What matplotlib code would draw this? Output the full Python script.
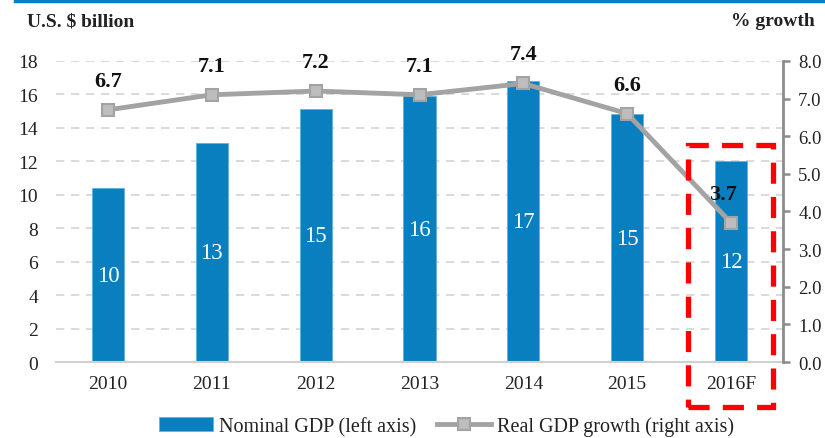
import matplotlib
matplotlib.use("Agg")
import matplotlib.pyplot as plt
from matplotlib.patches import Rectangle

years = ["2010", "2011", "2012", "2013", "2014", "2015", "2016F"]
nominal_gdp = [10.4, 13.1, 15.1, 15.9, 16.8, 14.8, 12.0]
nominal_labels = ["10", "13", "15", "16", "17", "15", "12"]
real_growth = [6.7, 7.1, 7.2, 7.1, 7.4, 6.6, 3.7]
left_ticks = [0, 2, 4, 6, 8, 10, 12, 14, 16, 18]
right_ticks = [0.0, 1.0, 2.0, 3.0, 4.0, 5.0, 6.0, 7.0, 8.0]

plt.rcParams['font.family'] = ['Liberation Serif', 'DejaVu Serif']

BLUE = "#0A7FBF"
GRAY = "#A3A3A3"

fig = plt.figure(figsize=(8.25, 4.39), dpi=100)
ax = fig.add_axes([0.068, 0.173, 0.881, 0.686])
ax2 = ax.twinx()

x = list(range(len(years)))
bars = ax.bar(x, nominal_gdp, width=0.31, color=BLUE, edgecolor="#5DB3E0",
              linewidth=0.6, zorder=2, label="Nominal GDP (left axis)")
for xi, v, lab in zip(x, nominal_gdp, nominal_labels):
    ax.text(xi, v / 2, lab, ha="center", va="center", color="white",
            fontsize=16.5, zorder=3)

ax.set_xlim(-0.5, len(years) - 0.5)
ax.set_ylim(0, 18)
ax.set_yticks(left_ticks)
ax.set_yticklabels([str(t) for t in left_ticks])
ax.set_xticks(x)
ax.set_xticklabels(years)
ax.tick_params(axis="y", length=0, pad=13, labelsize=14, colors="#222222")
ax.tick_params(axis="x", length=0, pad=9, labelsize=14, colors="#222222")
ax.grid(axis="y", linestyle=(0, (5, 4)), color="#D4D4D4", linewidth=1.2, zorder=0)
ax.set_axisbelow(True)
for s in ["left", "top", "right"]:
    ax.spines[s].set_visible(False)
ax.spines["bottom"].set_color("#D0D0D0")
ax.spines["bottom"].set_linewidth(1.5)

line, = ax2.plot(x, real_growth, color=GRAY, linewidth=3.5, marker="s",
                 markersize=8, markerfacecolor="#BDBDBD", markeredgecolor=GRAY,
                 markeredgewidth=1.5, zorder=4, label="Real GDP growth (right axis)")
for xi, v in zip(x, real_growth):
    dx = -0.08 if xi == len(years) - 1 else 0
    ax2.annotate(f"{v:.1f}", (xi, v), xytext=(dx * 104, 19), textcoords="offset pixels",
                 ha="center", va="bottom", fontsize=16, fontweight="bold", color="#111111")
ax2.set_ylim(0, 8)
ax2.set_yticks(right_ticks)
ax2.set_yticklabels([f"{t:.1f}" for t in right_ticks])
ax2.tick_params(axis="y", direction="out", length=5, width=1.8, color="#8C8C8C",
                pad=6, labelsize=13.5, labelcolor="#222222")
for s in ["left", "top", "bottom"]:
    ax2.spines[s].set_visible(False)
ax2.spines["right"].set_color("#8C8C8C")
ax2.spines["right"].set_linewidth(2)

# top blue rule
fig.add_artist(plt.Line2D([15 / 825, 1.0], [1 - 1.5 / 439, 1 - 1.5 / 439],
                          transform=fig.transFigure, color=BLUE, linewidth=2.5))

fig.text(27 / 825, 1 - 22 / 439, "U.S. $ billion", ha="left", va="center",
         fontsize=14, fontweight="bold", color="#222222")
fig.text(815 / 825, 1 - 22 / 439, "% growth", ha="right", va="center",
         fontsize=14, fontweight="bold", color="#222222")

# red dashed highlight box
rect = Rectangle((688 / 825, 1 - 408 / 439), (773 - 688) / 825, (408 - 146) / 439,
                 transform=fig.transFigure, fill=False, edgecolor="#FF0000",
                 linewidth=3.8, linestyle=(0, (4, 2.5)), zorder=10)
fig.add_artist(rect)

leg = fig.legend(handles=[bars, line], loc="center", ncol=2,
                 bbox_to_anchor=(0.541, 0.027), frameon=False, fontsize=14.5,
                 handlelength=2.7, handletextpad=0.3, columnspacing=1.0)
for t in leg.get_texts():
    t.set_color("#222222")

fig.savefig("out.png", dpi=100)
